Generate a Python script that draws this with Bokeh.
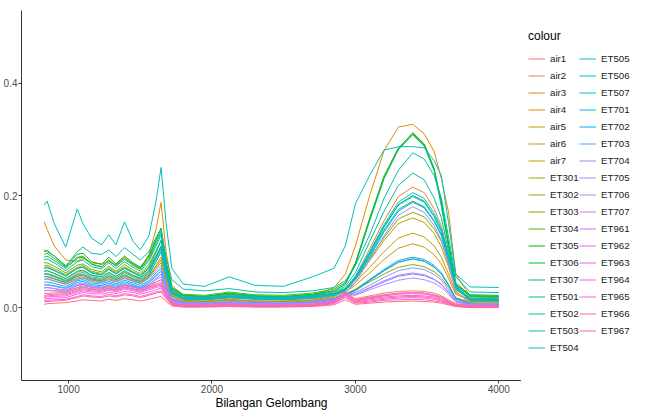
import math
from bokeh.plotting import figure
from bokeh.layouts import row
from bokeh.models import Legend, LegendItem, FixedTicker, Range1d
from bokeh.embed import file_html
from bokeh.resources import INLINE

# wavenumber grid (Bilangan Gelombang)
wavenumber = [830, 850, 900, 980, 1060, 1100, 1160, 1230, 1280, 1330,
              1390, 1450, 1500, 1560, 1610, 1645, 1680, 1720, 1800, 1950,
              2120, 2300, 2500, 2700, 2850, 2930, 3000, 3100, 3200, 3300,
              3400, 3480, 3550, 3600, 3650, 3700, 3800, 4000]

air1 = [.025, .026, .026, .027, .033, .036, .034, .033, .037, .034, .039, .036, .033, .038, .042, .045, .026, .009, .005, .005,
        .006, .005, .005, .006, .012, .026, .014, .019, .023, .026, .027, .026, .023, .019, .012, .006, .004, .004]
air2 = [.030, .031, .030, .030, .036, .039, .036, .035, .039, .036, .041, .038, .035, .040, .046, .050, .029, .010, .006, .006,
        .007, .006, .006, .007, .013, .028, .016, .021, .026, .029, .030, .029, .026, .021, .014, .007, .005, .005]
air3 = [.050, .052, .048, .042, .050, .053, .047, .045, .050, .046, .053, .047, .043, .055, .075, .090, .052, .022, .013, .012,
        .015, .012, .012, .014, .020, .030, .055, .105, .155, .198, .215, .205, .176, .145, .095, .038, .011, .010]
air4 = [.153, .140, .110, .085, .083, .088, .080, .078, .082, .076, .090, .075, .070, .095, .140, .188, .100, .040, .022, .020,
        .025, .020, .018, .022, .035, .060, .110, .200, .280, .322, .327, .310, .278, .230, .170, .060, .020, .018]
air5 = [.060, .060, .056, .048, .058, .060, .053, .050, .057, .052, .059, .052, .048, .060, .082, .100, .057, .024, .015, .014,
        .017, .015, .014, .016, .021, .028, .040, .062, .086, .106, .114, .108, .094, .078, .052, .024, .013, .012]
air6 = [.065, .066, .061, .052, .063, .066, .058, .055, .062, .056, .064, .057, .052, .065, .090, .110, .062, .026, .016, .015,
        .019, .016, .015, .018, .023, .031, .045, .072, .100, .124, .133, .126, .110, .090, .060, .027, .013, .012]
air7 = [.075, .076, .070, .059, .072, .075, .065, .061, .071, .063, .073, .064, .058, .073, .100, .120, .068, .030, .018, .017,
        .021, .018, .017, .020, .025, .034, .050, .084, .120, .150, .160, .152, .132, .108, .072, .032, .016, .015]
ET301 = [.055, .055, .051, .044, .053, .055, .049, .046, .052, .047, .054, .048, .044, .054, .070, .080, .046, .020, .011, .010,
         .013, .011, .010, .012, .017, .024, .033, .050, .066, .081, .087, .083, .072, .060, .040, .018, .009, .008]
ET302 = [.060, .060, .055, .047, .056, .058, .051, .048, .055, .050, .057, .050, .046, .056, .073, .085, .049, .021, .012, .011,
         .014, .012, .011, .013, .018, .025, .032, .046, .060, .072, .077, .073, .064, .053, .036, .017, .011, .010]
ET303 = [.080, .080, .074, .062, .076, .078, .068, .064, .074, .065, .077, .067, .061, .077, .102, .120, .070, .031, .020, .018,
         .023, .019, .018, .021, .026, .035, .052, .088, .125, .158, .170, .162, .140, .118, .078, .034, .019, .018]
ET304 = [.095, .097, .088, .072, .090, .092, .078, .073, .085, .075, .088, .078, .070, .090, .120, .140, .080, .035, .024, .022,
         .028, .023, .022, .026, .033, .045, .080, .160, .235, .285, .310, .290, .245, .185, .115, .045, .021, .020]
ET305 = [.100, .102, .092, .075, .095, .097, .082, .077, .090, .078, .092, .080, .072, .092, .122, .142, .082, .036, .022, .020,
         .026, .021, .020, .024, .030, .042, .078, .158, .232, .283, .312, .292, .248, .188, .112, .042, .023, .022]
ET306 = [.070, .071, .066, .056, .070, .072, .062, .058, .068, .060, .070, .062, .056, .070, .092, .110, .065, .029, .018, .017,
         .021, .018, .017, .020, .025, .033, .055, .098, .145, .184, .200, .190, .163, .136, .090, .038, .016, .015]
ET307 = [.065, .066, .061, .052, .065, .067, .058, .055, .063, .056, .066, .058, .053, .066, .088, .105, .062, .027, .017, .016,
         .020, .017, .016, .019, .024, .032, .052, .093, .138, .175, .190, .180, .155, .130, .086, .036, .015, .014]
ET501 = [.090, .092, .084, .070, .088, .090, .077, .072, .084, .074, .086, .076, .068, .086, .115, .135, .078, .034, .022, .020,
         .025, .021, .020, .023, .030, .042, .076, .155, .230, .282, .308, .288, .244, .180, .108, .040, .021, .020]
ET502 = [.085, .087, .080, .066, .082, .085, .073, .069, .080, .070, .082, .072, .065, .083, .110, .130, .075, .033, .021, .019,
         .024, .020, .019, .022, .028, .038, .062, .118, .172, .218, .240, .228, .195, .160, .100, .040, .021, .020]
ET503 = [.103, .100, .092, .073, .100, .108, .097, .095, .103, .091, .107, .095, .085, .100, .125, .140, .090, .050, .033, .030,
         .034, .028, .027, .030, .036, .048, .075, .130, .195, .245, .276, .265, .235, .195, .125, .055, .028, .027]
ET504 = [.183, .190, .150, .108, .176, .150, .124, .112, .130, .112, .153, .118, .103, .128, .190, .250, .150, .070, .042, .038,
         .055, .040, .038, .055, .070, .110, .185, .236, .281, .287, .287, .285, .262, .235, .150, .060, .037, .036]
ET505 = [.072, .073, .067, .057, .070, .073, .063, .059, .069, .061, .071, .063, .057, .072, .098, .120, .068, .030, .018, .017,
         .021, .018, .017, .020, .025, .034, .056, .100, .148, .188, .205, .195, .168, .140, .092, .038, .017, .016]
ET506 = [.060, .061, .057, .049, .060, .063, .055, .052, .059, .053, .062, .055, .050, .062, .088, .110, .062, .027, .016, .015,
         .019, .016, .015, .018, .023, .031, .053, .096, .143, .183, .198, .188, .162, .135, .088, .036, .014, .013]
ET507 = [.055, .056, .052, .045, .056, .058, .051, .048, .055, .049, .057, .051, .046, .058, .082, .100, .058, .025, .015, .014,
         .018, .015, .014, .017, .022, .030, .050, .090, .135, .172, .188, .178, .153, .128, .083, .034, .013, .012]
ET701 = [.045, .046, .043, .038, .048, .050, .044, .042, .047, .043, .049, .044, .040, .048, .062, .070, .040, .016, .009, .008,
         .010, .009, .008, .010, .015, .022, .030, .048, .066, .081, .087, .083, .072, .060, .040, .016, .007, .006]
ET702 = [.040, .041, .039, .035, .045, .047, .041, .039, .044, .040, .046, .041, .037, .045, .058, .065, .037, .015, .009, .008,
         .010, .009, .008, .010, .015, .023, .031, .050, .068, .084, .090, .086, .075, .062, .041, .016, .007, .006]
ET703 = [.035, .036, .034, .031, .040, .042, .037, .035, .039, .036, .041, .037, .034, .040, .052, .060, .034, .013, .007, .006,
         .008, .007, .006, .008, .013, .022, .024, .035, .046, .056, .060, .057, .050, .041, .027, .011, .006, .005]
ET704 = [.040, .041, .038, .034, .042, .044, .039, .037, .041, .038, .043, .039, .035, .043, .056, .065, .037, .014, .008, .007,
         .009, .008, .007, .009, .014, .024, .027, .040, .054, .066, .071, .068, .059, .049, .032, .013, .006, .005]
ET705 = [.050, .051, .047, .042, .051, .053, .047, .045, .050, .046, .052, .047, .043, .052, .066, .075, .043, .017, .010, .009,
         .011, .010, .009, .011, .017, .026, .045, .085, .128, .165, .180, .170, .146, .120, .078, .030, .008, .007]
ET706 = [.030, .031, .030, .028, .035, .037, .033, .031, .035, .032, .037, .033, .030, .036, .045, .050, .029, .011, .006, .005,
         .007, .006, .005, .007, .012, .024, .022, .032, .041, .049, .053, .050, .044, .036, .024, .010, .005, .004]
ET707 = [.035, .036, .034, .031, .039, .041, .037, .035, .039, .036, .041, .037, .033, .040, .050, .055, .032, .012, .007, .006,
         .008, .007, .006, .008, .013, .026, .024, .036, .048, .058, .062, .059, .051, .042, .028, .011, .005, .004]
ET961 = [.020, .021, .022, .023, .029, .032, .030, .029, .033, .030, .035, .032, .029, .034, .038, .040, .023, .008, .004, .004,
         .005, .004, .004, .005, .011, .025, .013, .018, .022, .025, .027, .026, .022, .018, .011, .005, .003, .003]
ET962 = [.018, .019, .020, .021, .027, .030, .028, .027, .031, .028, .033, .030, .027, .032, .036, .038, .022, .007, .003, .003,
         .004, .003, .003, .004, .010, .024, .012, .017, .021, .024, .025, .024, .021, .017, .010, .004, .002, .002]
ET963 = [.015, .016, .017, .018, .024, .027, .025, .024, .027, .025, .029, .027, .024, .028, .032, .035, .020, .006, .003, .003,
         .004, .003, .003, .004, .009, .022, .010, .014, .017, .019, .020, .019, .017, .013, .008, .004, .002, .002]
ET964 = [.012, .013, .014, .015, .020, .023, .021, .020, .024, .021, .025, .023, .020, .024, .028, .030, .017, .005, .002, .002,
         .003, .002, .002, .003, .008, .020, .009, .012, .015, .017, .018, .017, .015, .012, .007, .003, .001, .001]
ET965 = [.010, .011, .012, .013, .018, .021, .019, .018, .021, .019, .023, .021, .018, .022, .026, .028, .016, .005, .002, .002,
         .003, .002, .002, .003, .007, .018, .008, .010, .013, .014, .015, .014, .012, .010, .006, .003, .001, .001]
ET966 = [.022, .023, .024, .025, .031, .034, .032, .031, .035, .032, .037, .034, .031, .036, .040, .042, .024, .008, .004, .004,
         .005, .004, .004, .005, .011, .026, .012, .016, .019, .021, .022, .021, .019, .015, .009, .004, .003, .003]
ET967 = [.006, .007, .008, .009, .012, .014, .013, .012, .015, .013, .016, .014, .012, .015, .018, .020, .011, .003, .001, .001,
         .002, .001, .001, .002, .005, .014, .006, .008, .010, .011, .012, .011, .010, .008, .005, .002, .000, .000]

names = ["air1", "air2", "air3", "air4", "air5", "air6", "air7",
         "ET301", "ET302", "ET303", "ET304", "ET305", "ET306", "ET307",
         "ET501", "ET502", "ET503", "ET504", "ET505", "ET506", "ET507",
         "ET701", "ET702", "ET703", "ET704", "ET705", "ET706", "ET707",
         "ET961", "ET962", "ET963", "ET964", "ET965", "ET966", "ET967"]
series = [air1, air2, air3, air4, air5, air6, air7,
          ET301, ET302, ET303, ET304, ET305, ET306, ET307,
          ET501, ET502, ET503, ET504, ET505, ET506, ET507,
          ET701, ET702, ET703, ET704, ET705, ET706, ET707,
          ET961, ET962, ET963, ET964, ET965, ET966, ET967]

x_ticks = [1000, 2000, 3000, 4000]
y_ticks = [0.0, 0.2, 0.4]
y_tick_labels = ["0.0", "0.2", "0.4"]


def hcl_hex(h, c=100.0, l=65.0):
    hr = math.radians(h)
    U = c * math.cos(hr)
    V = c * math.sin(hr)
    Xn, Yn, Zn = 95.047, 100.0, 108.883
    Y = Yn * ((l + 16) / 116) ** 3
    t = Xn + 15 * Yn + 3 * Zn
    un, vn = 4 * Xn / t, 9 * Yn / t
    up = U / (13 * l) + un
    vp = V / (13 * l) + vn
    X = 9.0 * Y * up / (4 * vp)
    Z = -X / 3 - 5 * Y + 3 * Y / vp
    X, Y, Z = X / 100, Y / 100, Z / 100
    rgb = [3.240479 * X - 1.537150 * Y - 0.498535 * Z,
           -0.969256 * X + 1.875992 * Y + 0.041556 * Z,
           0.055648 * X - 0.204043 * Y + 1.057311 * Z]
    out = []
    for v in rgb:
        v = 12.92 * v if v <= 0.0031308 else 1.055 * v ** (1 / 2.4) - 0.055
        out.append(int(round(max(0.0, min(1.0, v)) * 255)))
    return "#%02X%02X%02X" % tuple(out)


n = len(names)
colors = [hcl_hex((15 + i * 360.0 / n) % 360) for i in range(n)]

FONT = "Liberation Sans"
H = 412
MAIN_W = 521
LEG_W = 649 - MAIN_W
TOP = 10

p = figure(width=MAIN_W, height=H, output_backend="svg", toolbar_location=None,
           x_range=Range1d(671.5, 4158.5), y_range=Range1d(-0.1298, 0.5298),
           min_border_left=0, min_border_right=0, min_border_top=TOP, min_border_bottom=0)
p.xgrid.visible = False
p.ygrid.visible = False
p.outline_line_color = None
p.background_fill_color = "white"
p.border_fill_color = "white"

for ys, col in zip(series, colors):
    p.line(wavenumber, ys, line_color=col, line_width=1)

for ax in (p.xaxis[0], p.yaxis[0]):
    ax.axis_line_color = "#333333"
    ax.axis_line_width = 1
    ax.major_tick_line_color = "#333333"
    ax.major_tick_out = 3
    ax.major_tick_in = 0
    ax.minor_tick_line_color = None
    ax.major_label_text_color = "#4D4D4D"
    ax.major_label_text_font = FONT
    ax.major_label_text_font_size = "10px"
    ax.major_label_standoff = 1

p.xaxis.ticker = FixedTicker(ticks=x_ticks)
p.yaxis.ticker = FixedTicker(ticks=y_ticks)
p.yaxis.major_label_overrides = {t: lab for t, lab in zip(y_ticks, y_tick_labels)}
p.xaxis.axis_label = "Bilangan Gelombang"
p.xaxis.axis_label_text_font = FONT
p.xaxis.axis_label_text_font_size = "12px"
p.xaxis.axis_label_text_font_style = "normal"
p.xaxis.axis_label_text_color = "black"
p.xaxis.axis_label_standoff = 0

# separate panel holding the "colour" legend (its lines sit outside its ranges)
lg = figure(width=LEG_W, height=H, output_backend="svg", toolbar_location=None,
            x_range=Range1d(0, 1), y_range=Range1d(0, 1),
            x_axis_type=None, y_axis_type=None,
            min_border_left=7, min_border_right=0, min_border_top=TOP, min_border_bottom=0)
lg.outline_line_color = None
lg.background_fill_color = "white"
lg.border_fill_color = "white"

items = []
for name, ys, col in zip(names, series, colors):
    r = lg.line(wavenumber, ys, line_color=col, line_width=1)
    items.append(LegendItem(label=name, renderers=[r]))

legend = Legend(items=items, ncols=2, location=(0, 24), title="colour",
                title_text_font=FONT, title_text_font_size="12px", title_text_font_style="normal",
                title_text_color="black", title_standoff=7,
                label_text_font=FONT, label_text_font_size="9.7px", label_text_color="#222222",
                glyph_width=17, glyph_height=17, label_height=17, label_width=29,
                label_standoff=5, spacing=0, padding=0, margin=0,
                border_line_color=None, background_fill_alpha=0)
lg.add_layout(legend)

layout = row(p, lg)
open("out.html", "w").write(file_html(layout, INLINE))
